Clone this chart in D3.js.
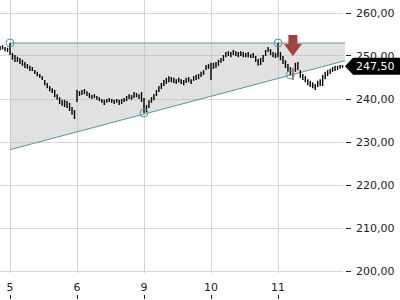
<!DOCTYPE html>
<html><head><meta charset="utf-8">
<script src="https://cdn.jsdelivr.net/npm/d3@7"></script>
<style>html,body{margin:0;padding:0;background:#fff;}svg{display:block;font-family:"DejaVu Sans",sans-serif;}</style>
</head><body>
<svg id="c" width="400" height="300"></svg>
<script>
const dayLabels = ["5","6","9","10","11"];
const barsPerDay = 27;
const tailBars = 4;
const yTicks = [200,210,220,230,240,250,260];
const lastPrice = 247.5;
const resistance = 252.9;
const trendStart = [0, 228.1];
const trendEnd = [5, 248.8];
const markers = [[0,252.9],[2,236.6],[4,252.9],[4.185,245.5]];
const signalBar = 118;

const high = [
252.2,252.4,252.0,251.8,
252.9,250.6,250.1,249.7,249.4,249.0,248.5,248.0,247.6,247.3,246.6,246.2,245.7,245.2,244.3,243.6,242.9,242.4,242.0,241.0,240.3,239.7,239.7,239.4,239.0,238.0,237.3,
242.0,241.7,242.0,242.2,241.7,241.3,240.8,241.0,240.6,240.3,239.9,239.7,239.9,240.1,239.9,239.7,239.9,239.7,239.9,240.1,240.6,241.0,240.8,241.5,241.3,241.0,241.5,
240.1,238.5,239.6,240.3,241.0,242.0,242.9,243.6,244.3,244.8,245.2,245.0,244.8,244.5,244.8,244.5,244.3,244.8,245.0,244.5,245.2,245.5,245.7,246.2,246.6,247.8,248.0,
248.3,248.3,248.5,249.0,249.4,250.1,250.8,251.0,250.8,251.3,251.0,250.8,251.0,250.8,250.6,250.8,250.3,250.6,249.9,249.2,249.4,250.1,251.3,252.0,251.5,250.8,250.6,
252.9,250.8,249.9,248.9,248.0,247.3,247.1,248.3,248.5,246.6,245.7,245.2,244.5,244.1,243.8,243.4,244.1,244.5,245.5,246.2,246.6,246.9,247.3,247.6,247.6,247.8,247.8
];
const low = [
251.2,251.4,251.0,250.8,
250.1,249.0,248.5,248.5,248.0,247.6,247.1,246.9,246.4,246.4,245.7,245.2,244.8,244.3,243.1,242.4,241.7,241.3,240.3,239.7,238.7,238.3,238.0,237.8,237.1,236.2,235.2,
239.2,240.6,240.8,241.0,240.6,240.1,239.9,240.1,239.7,239.4,239.0,238.5,239.0,239.2,239.0,238.7,239.0,238.5,238.7,239.2,239.4,239.9,239.7,240.1,240.3,239.9,239.2,
236.6,236.8,237.8,239.0,239.6,240.6,241.5,242.2,242.9,243.4,243.8,243.8,243.6,243.4,243.8,243.4,243.1,243.6,243.8,243.4,244.1,244.3,244.5,245.0,245.5,246.6,246.9,
244.3,246.9,247.1,247.6,248.3,248.7,249.6,249.9,249.6,250.1,249.9,249.6,249.9,249.6,249.6,249.6,249.4,249.4,248.5,247.6,247.8,248.5,249.9,250.8,250.1,249.6,249.4,
249.6,248.9,248.0,247.1,246.2,245.5,244.3,246.2,246.6,244.8,244.3,243.8,243.1,242.7,242.4,242.0,242.7,242.9,242.9,244.5,245.2,245.7,246.2,246.4,246.6,246.9,247.1
];

const svg = d3.select("#c");
const x = d3.scaleLinear().domain([0,5]).range([10,345]);
const y = d3.scaleLinear().domain([200,260]).range([270.5,12.5]);
const tOf = i => (i - tailBars) / barsPerDay;

// grid
const g = svg.append("g");
g.selectAll("line.h").data(yTicks).enter().append("line")
  .attr("x1",0).attr("x2",343).attr("y1",d=>Math.round(y(d))+0.5).attr("y2",d=>Math.round(y(d))+0.5)
  .attr("stroke","#d6d6d6").attr("stroke-width",1);
g.selectAll("line.v").data(dayLabels).enter().append("line")
  .attr("x1",(d,i)=>Math.round(x(i))+0.5).attr("x2",(d,i)=>Math.round(x(i))+0.5)
  .attr("y1",0).attr("y2",273)
  .attr("stroke","#d6d6d6").attr("stroke-width",1);

// triangle fill
const poly = [[trendStart[0],resistance],[trendEnd[0],resistance],[trendEnd[0],trendEnd[1]],[trendStart[0],trendStart[1]]];
svg.append("polygon").attr("points",poly.map(p=>[x(p[0]),y(p[1])].join(",")).join(" "))
  .attr("fill","#bdbdbd").attr("fill-opacity",0.45);
svg.append("line").attr("x1",x(trendStart[0])).attr("x2",x(trendEnd[0]))
  .attr("y1",y(resistance)).attr("y2",y(resistance)).attr("stroke","#5f9ea0").attr("stroke-width",1);
svg.append("line").attr("x1",x(trendStart[0])).attr("x2",x(trendEnd[0]))
  .attr("y1",y(trendStart[1])).attr("y2",y(trendEnd[1])).attr("stroke","#4a9ea0").attr("stroke-width",1);

// bars
svg.append("g").selectAll("line").data(high).enter().append("line")
  .attr("x1",(d,i)=>x(tOf(i))).attr("x2",(d,i)=>x(tOf(i)))
  .attr("y1",d=>y(d)).attr("y2",(d,i)=>y(low[i]))
  .attr("stroke",(d,i)=>i===signalBar?"#b04040":"#000").attr("stroke-width",1.4);

// markers
svg.append("g").selectAll("circle").data(markers).enter().append("circle")
  .attr("cx",d=>x(d[0])).attr("cy",d=>y(d[1])).attr("r",4)
  .attr("fill","none").attr("stroke","#4a9ea0").attr("stroke-width",1);

// signal arrow
const ax = x(tOf(signalBar)), ay = y(resistance);
svg.append("path")
  .attr("d",`M${ax-4.5},${ay-8} L${ax+4.5},${ay-8} L${ax+4.5},${ay+1} L${ax+9},${ay+1} L${ax},${ay+13} L${ax-9},${ay+1} L${ax-4.5},${ay+1} Z`)
  .attr("fill","#a3423d");

// y axis ticks & labels
const ya = svg.append("g");
ya.selectAll("line").data(yTicks).enter().append("line")
  .attr("x1",346).attr("x2",351).attr("y1",d=>Math.round(y(d))+0.5).attr("y2",d=>Math.round(y(d))+0.5)
  .attr("stroke","#222");
ya.selectAll("text").data(yTicks).enter().append("text")
  .attr("x",356).attr("y",d=>y(d)+4).attr("font-size",11).attr("fill","#222")
  .text(d=>d3.format(".2f")(d).replace(".",","));

// x axis
const xa = svg.append("g");
xa.selectAll("text").data(dayLabels).enter().append("text")
  .attr("x",(d,i)=>x(i)).attr("y",291).attr("text-anchor","middle").attr("font-size",11).attr("fill","#222")
  .text(d=>d);
xa.selectAll("line").data(dayLabels).enter().append("line")
  .attr("x1",(d,i)=>Math.round(x(i))+0.5).attr("x2",(d,i)=>Math.round(x(i))+0.5)
  .attr("y1",295).attr("y2",299).attr("stroke","#222");

// last price label
const ly = y(lastPrice);
svg.append("path").attr("d",`M345,${ly} L353,${ly-8.5} L400,${ly-8.5} L400,${ly+8.5} L353,${ly+8.5} Z`).attr("fill","#000");
svg.append("text").attr("x",356).attr("y",ly+4).attr("font-size",11).attr("fill","#fff")
  .text(d3.format(".2f")(lastPrice).replace(".",","));
</script>
</body></html>
